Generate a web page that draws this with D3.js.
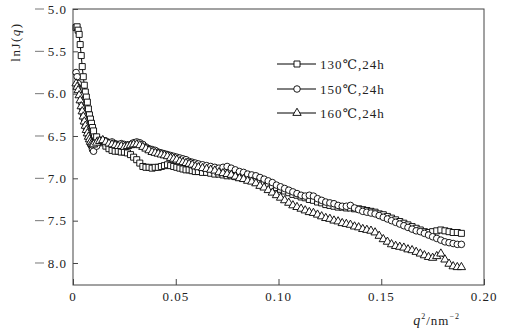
<!DOCTYPE html>
<html>
<head>
<meta charset="utf-8">
<script src="https://cdn.jsdelivr.net/npm/d3@7"></script>
<style>
  html, body { margin: 0; padding: 0; background: #fff; }
  svg { display: block; }
  .num { font-family: "Liberation Serif", "DejaVu Serif", serif; font-size: 13px; letter-spacing: 1px; fill: #222; }
</style>
</head>
<body>
<svg id="chart" width="512" height="330"></svg>
<script>
// q^2 sampling positions (nm^-2)
const q2 = [
  0.0015,0.002,0.0025,0.003,0.0035,0.004,0.0045,0.005,0.0055,0.006,0.0065,0.007,0.0075,0.008,0.0085,0.009,0.0095,0.01,
  0.0115,0.013,0.0145,0.016,0.0175,0.019,0.0205,0.022,0.0235,0.025,0.0265,0.028,0.0295,0.031,0.0325,0.034,0.0355,0.037,0.0385,0.04,0.0415,0.043,0.0445,0.046,0.0475,0.049,0.0505,0.052,0.0535,0.055,0.0565,0.058,0.0595,
  0.061,0.063,0.065,0.067,0.069,0.071,0.073,0.075,0.077,0.079,0.081,0.083,0.085,0.087,0.089,0.091,0.093,0.095,0.097,0.099,
  0.101,0.103,0.105,0.107,0.109,0.111,0.113,0.115,0.117,0.119,0.121,0.123,0.125,0.127,0.129,0.131,0.133,0.135,0.137,0.139,
  0.141,0.143,0.145,0.147,0.149,0.151,0.153,0.155,0.157,0.159,0.161,0.163,0.165,0.167,0.169,0.171,0.173,0.175,0.177,0.179,
  0.181,0.183,0.185,0.187,0.189
];

// lnJ(q) for 130 ℃, 24 h
const lnJ130 = [
  -5.22,-5.21,-5.25,-5.30,-5.42,-5.55,-5.68,-5.80,-5.90,-5.98,-6.04,-6.10,-6.18,-6.25,-6.30,-6.35,-6.40,-6.44,
  -6.51,-6.55,-6.58,-6.62,-6.65,-6.67,-6.68,-6.68,-6.69,-6.69,-6.70,-6.72,-6.75,-6.78,-6.82,-6.86,-6.87,-6.87,-6.88,-6.87,-6.87,-6.86,-6.85,-6.84,-6.85,-6.86,-6.87,-6.88,-6.89,-6.90,-6.90,-6.91,-6.92,
  -6.92,-6.93,-6.93,-6.94,-6.95,-6.95,-6.96,-6.97,-6.97,-6.98,-6.99,-7.00,-7.01,-7.02,-7.04,-7.05,-7.07,-7.08,-7.10,-7.11,
  -7.13,-7.15,-7.17,-7.19,-7.20,-7.22,-7.23,-7.25,-7.26,-7.28,-7.29,-7.31,-7.32,-7.33,-7.34,-7.34,-7.35,-7.35,-7.36,-7.36,
  -7.37,-7.38,-7.39,-7.40,-7.42,-7.43,-7.45,-7.47,-7.49,-7.51,-7.53,-7.55,-7.57,-7.59,-7.61,-7.63,-7.64,-7.63,-7.62,-7.61,
  -7.62,-7.63,-7.64,-7.64,-7.65
];

// lnJ(q) for 150 ℃, 24 h
const lnJ150 = [
  -5.75,-5.80,-5.88,-5.95,-6.02,-6.10,-6.17,-6.24,-6.30,-6.36,-6.41,-6.45,-6.50,-6.54,-6.58,-6.62,-6.66,-6.68,
  -6.62,-6.57,-6.55,-6.56,-6.58,-6.57,-6.59,-6.60,-6.59,-6.60,-6.61,-6.60,-6.58,-6.57,-6.58,-6.60,-6.63,-6.65,-6.66,-6.67,-6.69,-6.70,-6.71,-6.72,-6.73,-6.74,-6.75,-6.76,-6.77,-6.78,-6.80,-6.81,-6.82,
  -6.83,-6.84,-6.85,-6.86,-6.87,-6.88,-6.87,-6.86,-6.88,-6.90,-6.92,-6.93,-6.95,-6.96,-6.97,-6.99,-7.01,-7.03,-7.05,-7.08,
  -7.10,-7.12,-7.14,-7.16,-7.18,-7.20,-7.21,-7.20,-7.21,-7.24,-7.26,-7.28,-7.29,-7.30,-7.32,-7.33,-7.33,-7.32,-7.35,-7.37,
  -7.39,-7.40,-7.41,-7.42,-7.44,-7.46,-7.48,-7.50,-7.52,-7.54,-7.56,-7.58,-7.60,-7.62,-7.63,-7.65,-7.67,-7.69,-7.71,-7.73,
  -7.75,-7.76,-7.77,-7.78,-7.78
];

// lnJ(q) for 160 ℃, 24 h
const lnJ160 = [
  -5.88,-5.92,-5.96,-6.02,-6.08,-6.15,-6.21,-6.27,-6.33,-6.38,-6.43,-6.47,-6.51,-6.54,-6.57,-6.59,-6.60,-6.60,
  -6.58,-6.56,-6.55,-6.57,-6.59,-6.60,-6.61,-6.62,-6.62,-6.63,-6.62,-6.61,-6.60,-6.60,-6.61,-6.63,-6.65,-6.67,-6.69,-6.70,-6.71,-6.72,-6.73,-6.74,-6.76,-6.77,-6.78,-6.80,-6.81,-6.82,-6.83,-6.84,-6.86,
  -6.87,-6.88,-6.89,-6.90,-6.91,-6.93,-6.94,-6.95,-6.96,-6.98,-7.00,-7.01,-7.03,-7.04,-7.06,-7.09,-7.11,-7.14,-7.17,-7.20,
  -7.23,-7.26,-7.29,-7.32,-7.34,-7.36,-7.38,-7.40,-7.41,-7.43,-7.45,-7.47,-7.48,-7.50,-7.51,-7.53,-7.54,-7.55,-7.57,-7.58,
  -7.60,-7.61,-7.62,-7.64,-7.68,-7.72,-7.75,-7.78,-7.80,-7.81,-7.82,-7.84,-7.85,-7.87,-7.89,-7.91,-7.93,-7.94,-7.92,-7.89,
  -7.96,-8.01,-8.04,-8.05,-8.05
];

const seriesNames = ["130℃,24h", "150℃,24h", "160℃,24h"];
const xTicks = [0, 0.05, 0.10, 0.15, 0.20];
const xTickLabels = ["0", "0.05", "0.10", "0.15", "0.20"];
const yTicks = [-5.0, -5.5, -6.0, -6.5, -7.0, -7.5, -8.0];
const yTickLabels = ["5.0", "5.5", "6.0", "6.5", "7.0", "7.5", "8.0"];

const svg = d3.select("#chart");
const plotLeft = 73, plotRight = 484, plotTop = 9, plotBottom = 285;

const x = d3.scaleLinear().domain([0, 0.20]).range([plotLeft, plotRight]);
const y = d3.scaleLinear().domain([-8.26, -5.0]).range([plotBottom, plotTop]);

const axisColor = "#444";

// frame
svg.append("rect")
  .attr("x", plotLeft).attr("y", plotTop)
  .attr("width", plotRight - plotLeft).attr("height", plotBottom - plotTop)
  .attr("fill", "none").attr("stroke", axisColor).attr("stroke-width", 1);

// y axis: inward ticks, labels drawn separately
const yAxis = svg.append("g").attr("transform", `translate(${plotLeft},0)`)
  .call(d3.axisRight(y).tickValues(yTicks).tickSize(5).tickFormat(""));
yAxis.select(".domain").remove();
yAxis.selectAll("line").attr("stroke", axisColor);

// y tick labels: long minus dash followed by the magnitude
const yLab = svg.append("g").selectAll("g").data(yTicks).join("g")
  .attr("transform", d => `translate(0,${y(d)})`);
yLab.append("line")
  .attr("x1", 35).attr("x2", 44).attr("y1", 0).attr("y2", 0)
  .attr("stroke", "#777").attr("stroke-width", 1);
yLab.append("text")
  .attr("class", "num")
  .attr("x", 67)
  .attr("dy", "0.35em")
  .attr("text-anchor", "end")
  .text((d, i) => yTickLabels[i]);

// x axis: inward ticks
const xAxis = svg.append("g").attr("transform", `translate(0,${plotBottom})`)
  .call(d3.axisTop(x).tickValues(xTicks).tickSize(6).tickFormat(""));
xAxis.select(".domain").remove();
xAxis.selectAll("line").attr("stroke", axisColor);

svg.append("g").selectAll("text").data(xTicks).join("text")
  .attr("class", "num")
  .attr("x", d => x(d))
  .attr("y", 301)
  .attr("text-anchor", "middle")
  .text((d, i) => xTickLabels[i]);

// axis titles
const yTitle = svg.append("text")
  .attr("class", "num")
  .attr("transform", "translate(20,42) rotate(-90)")
  .attr("text-anchor", "middle")
  .style("letter-spacing", "1.5px");
yTitle.append("tspan").text("lnJ(");
yTitle.append("tspan").attr("font-style", "italic").text("q");
yTitle.append("tspan").text(")");

const xTitle = svg.append("text")
  .attr("class", "num")
  .attr("x", 460).attr("y", 325)
  .attr("text-anchor", "end");
xTitle.append("tspan").attr("font-style", "italic").attr("font-size", 14).text("q");
xTitle.append("tspan").attr("font-size", 8).attr("dy", -6).text("2");
xTitle.append("tspan").attr("dy", 6).text("/nm");
xTitle.append("tspan").attr("font-size", 8).attr("dy", -6).text("−2");

// series
const symbols = [d3.symbolSquare, d3.symbolCircle, d3.symbolTriangle];
const symbolSizes = [36, 34, 30];
const dataSets = [lnJ130, lnJ150, lnJ160];

const line = d3.line().x(d => x(d[0])).y(d => y(d[1]));

dataSets.forEach((vals, si) => {
  const pts = q2.map((q, i) => [q, vals[i]]);
  const g = svg.append("g");
  g.append("path")
    .attr("d", line(pts))
    .attr("fill", "none")
    .attr("stroke", "#000")
    .attr("stroke-width", 1);
  const sym = d3.symbol().type(symbols[si]).size(symbolSizes[si]);
  g.selectAll("path.pt").data(pts).join("path")
    .attr("class", "pt")
    .attr("d", sym)
    .attr("transform", d => `translate(${x(d[0])},${y(d[1])})`)
    .attr("fill", "#fff")
    .attr("stroke", "#000")
    .attr("stroke-width", 0.9);
});

// legend
const legendY = [64, 89, 113];
seriesNames.forEach((name, si) => {
  const g = svg.append("g").attr("transform", `translate(0,${legendY[si]})`);
  g.append("line").attr("x1", 277).attr("x2", 316).attr("y1", 0).attr("y2", 0)
    .attr("stroke", "#000").attr("stroke-width", 1);
  g.append("path")
    .attr("d", d3.symbol().type(symbols[si]).size(symbolSizes[si])())
    .attr("transform", "translate(297,0)")
    .attr("fill", "#fff").attr("stroke", "#000").attr("stroke-width", 0.9);
  g.append("text").attr("class", "num")
    .attr("x", 320).attr("y", 0).attr("dy", "0.35em")
    .text(name);
});
</script>
</body>
</html>
